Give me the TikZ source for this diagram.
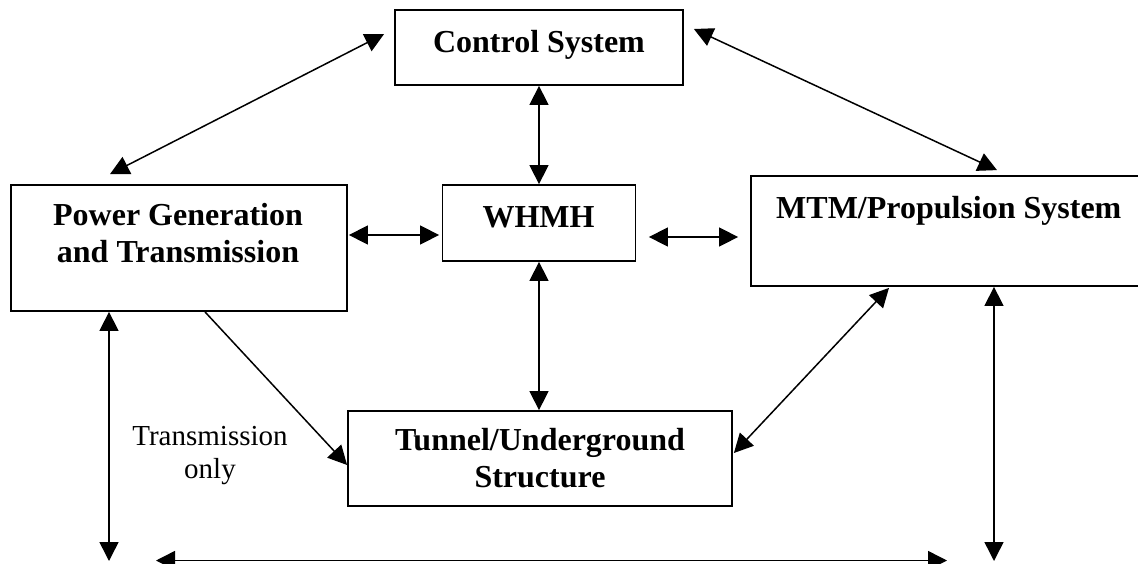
\documentclass[tikz,border=0pt]{standalone}
\usepackage{fontspec}
\setmainfont{Liberation Serif}
\usetikzlibrary{arrows.meta}

\begin{document}
\begin{tikzpicture}[x=1pt,y=-1pt,
  box/.style={draw, line width=1.8pt, inner sep=0pt},
  title/.style={font=\fontsize{32}{37}\selectfont\bfseries, inner sep=0pt},
  note/.style={font=\fontsize{29}{33}\selectfont, inner sep=0pt},
  tip/.tip={Triangle[length=19pt,width=19pt]},
  link/.style={line width=1.5pt, tip-tip},
  oneway/.style={line width=1.5pt, -tip}]
\useasboundingbox (0,0) rectangle (1138,563);
\clip (0,0) rectangle (1138,563);

% subsystem boxes
\node[box, minimum width=288pt, minimum height=75pt]  (ctrl)   at (539,47.5)  {};
\node[box, minimum width=336pt, minimum height=126pt] (power)  at (179,248)   {};
\node[box, minimum width=193pt, minimum height=76pt]  (whmh)   at (539,223)   {};
\node[box, minimum width=424pt, minimum height=110pt] (mtm)    at (963,231)   {};
\node[box, minimum width=384pt, minimum height=95pt]  (tunnel) at (540,458.5) {};

% box titles
\node[title, anchor=base] (ctrlT) at (539,52) {Control System};
\node[title, anchor=base] (powerT) at (178,225)
  {\begin{tabular}[t]{@{}c@{}}Power Generation\\and Transmission\end{tabular}};
\node[title, anchor=base] (whmhT) at (538.5,227) {WHMH};
\node[title, anchor=base west] (mtmT) at (776,218) {MTM/Propulsion System};
\node[title, anchor=base] (tunnelT) at (540,450)
  {\begin{tabular}[t]{@{}c@{}}Tunnel/Underground\\Structure\end{tabular}};
\node[note, anchor=base] (onlyT) at (210,445.5)
  {\begin{tabular}[t]{@{}c@{}}Transmission\\only\end{tabular}};

% free ends along the bottom
\coordinate (baseL) at (109,561);
\coordinate (baseR) at (994,561);
\coordinate (busL)  at (156,560.5);
\coordinate (busR)  at (947,560.5);

% interfaces
\draw[link] ([shift={(-10,-13.5)}]ctrl.west) -- ([shift={(-69,-10)}]power.north);
\draw[link] ([shift={(10,-18.5)}]ctrl.east) -- ([shift={(34,-5)}]mtm.north);
\draw[link] (ctrl.south) -- (whmh.north);
\draw[link] ([shift={(1,-13)}]power.east) -- ([shift={(-2.5,12)}]whmh.west);
\draw[link] ([shift={(12.5,14)}]whmh.east) -- ([shift={(-12,6)}]mtm.west);
\draw[link] (whmh.south) -- (whmh.south |- tunnel.north);
\draw[oneway] ([xshift=26pt]power.south) -- ([shift={(0,6.5)}]tunnel.west);
\draw[link] ([shift={(-74,1)}]mtm.south) -- ([shift={(1,-5.5)}]tunnel.east);
\draw[link] (power.south -| baseL) -- (baseL);
\draw[link] (mtm.south -| baseR) -- (baseR);
\draw[link] (busL) -- (busR);
\end{tikzpicture}
\end{document}
